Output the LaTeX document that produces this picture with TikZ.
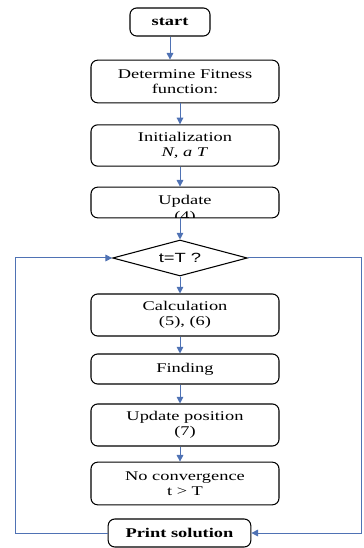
\documentclass[tikz,border=0pt]{standalone}
\usepackage{fontspec}
\setmainfont{Liberation Serif}[FakeStretch=1.38]
\newfontfamily\diasans{Liberation Sans}[FakeStretch=1.38]
\usetikzlibrary{shapes.geometric,arrows.meta}
\definecolor{flowblue}{RGB}{79,114,180}

\begin{document}
\begin{tikzpicture}[x=0.75pt,y=-0.75pt,
    box/.style={draw,rounded corners=5pt,line width=0.8pt,align=center,
        minimum width=141pt,inner sep=1pt,font=\fontsize{10}{11.5}\selectfont},
    flow/.style={-{Triangle[length=5pt,width=5pt]},flowblue,line width=0.75pt}]
    \useasboundingbox (0,0) rectangle (363,548);
    % Draw boxes
    \node (start) [box,minimum width=60pt,minimum height=21pt] at (170,22) {\bfseries start};
    \node (fit) [box,minimum height=32pt] at (185,81.5) {Determine Fitness\\function:};
    \node (init) [box,minimum height=31pt] at (185,145.5) {Initialization\\\textit{N, a T}};
    \node (upd) [box,minimum height=23pt,
        path picture={\node[align=center,font=\fontsize{10}{11.5}\selectfont]
            at ([yshift=-5pt]path picture bounding box.center) {Update\\(4)};}]
        at (185,202.5) {};
    \node (dec) [draw,diamond,aspect=3.75,minimum width=101pt,minimum height=27pt,
        inner sep=0pt,line width=0.8pt,font=\diasans\fontsize{10}{12}\selectfont]
        at (180,258) {t=T ?};
    \node (calc) [box,minimum height=31.5pt] at (185,315) {Calculation\\(5), (6)};
    \node (find) [box,minimum height=22.5pt] at (185,369) {Finding};
    \node (pos) [box,minimum height=31.5pt] at (185,425) {Update position\\(7)};
    \node (conv) [box,minimum height=32pt] at (185,483.5) {No convergence\\t > T};
    \node (print) [box,minimum width=107pt,minimum height=21pt] at (179.5,533) {\bfseries Print solution};

    % Draw arrows down the chart
    \coordinate (spine) at (180,0);
    \draw[flow] (start.south) -- (start.south |- fit.north);
    \draw[flow] (fit.south -| spine) -- (init.north -| spine);
    \draw[flow] (init.south -| spine) -- (upd.north -| spine);
    \draw[flow] (upd.south -| spine) -- (dec.north);
    \draw[flow] (dec.south) -- (calc.north -| spine);
    \draw[flow] (calc.south -| spine) -- (find.north -| spine);
    \draw[flow] (find.south -| spine) -- (pos.north -| spine);
    \draw[flow] (pos.south -| spine) -- (conv.north -| spine);

    % Draw the two loops round the chart
    \coordinate (loopL) at (15,258);
    \coordinate (loopR) at (361.5,258);
    \draw[flow] (print.west) -| (loopL) -- (dec.west);
    \draw[flow] (dec.east) -- (loopR) |- (print.east);
\end{tikzpicture}
\end{document}
